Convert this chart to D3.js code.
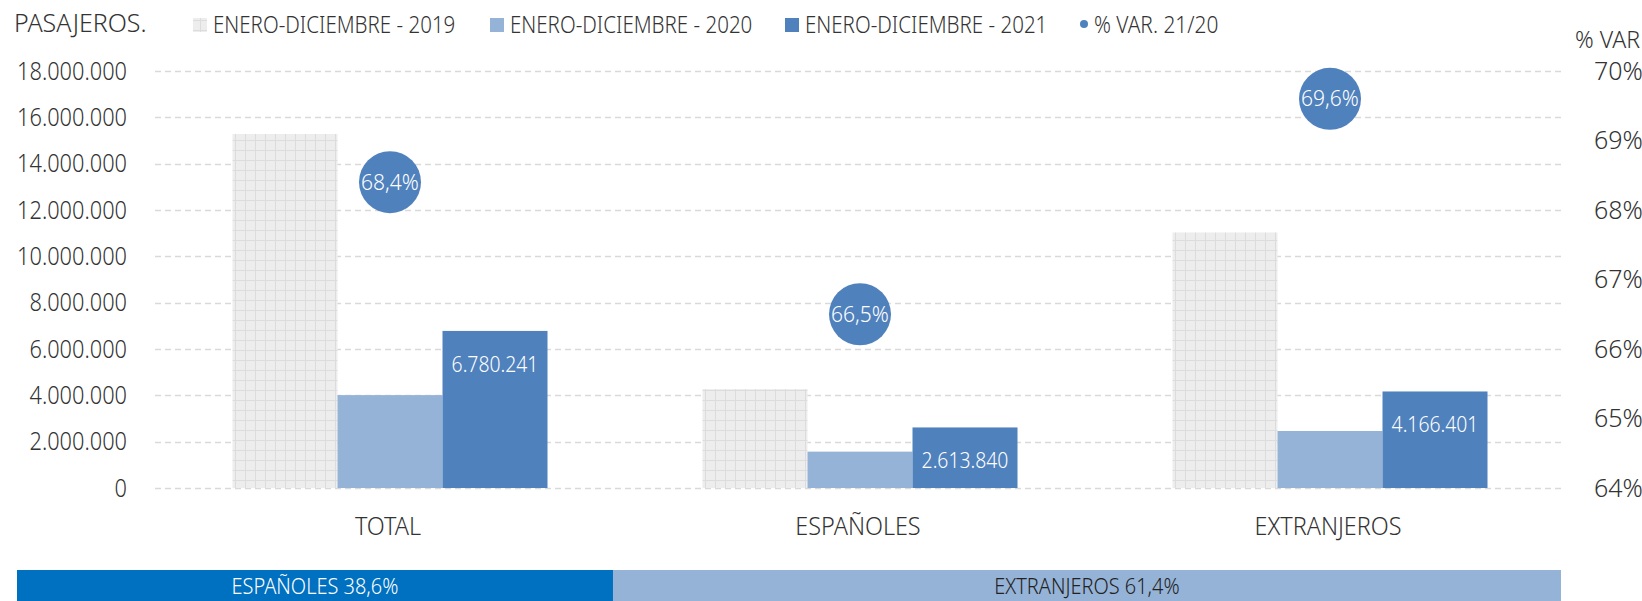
<!DOCTYPE html>
<html>
<head>
<meta charset="utf-8">
<script src="https://cdn.jsdelivr.net/npm/d3@7"></script>
<style>
  body { margin: 0; background: #fff; }
  text { font-family: "Noto Sans", "Open Sans", sans-serif; font-weight: 300; fill: #333; }
</style>
</head>
<body>
<svg id="chart" width="1642" height="601"></svg>
<script>
// chart values
const categories = ["TOTAL", "ESPAÑOLES", "EXTRANJEROS"];
const seriesNames = ["ENERO-DICIEMBRE - 2019", "ENERO-DICIEMBRE - 2020", "ENERO-DICIEMBRE - 2021"];
const pax2019 = [15280000, 4270000, 11030000];
const pax2020 = [4010000, 1570000, 2460000];
const pax2021 = [6780241, 2613840, 4166401];
const varPct = [68.4, 66.5, 69.6];
const leftTicks = [0, 2000000, 4000000, 6000000, 8000000, 10000000, 12000000, 14000000, 16000000, 18000000];
const rightTicks = [64, 65, 66, 67, 68, 69, 70];
const shareLabels = ["ESPAÑOLES", "EXTRANJEROS"];
const shareValues = [38.6, 61.4];

const svg = d3.select("#chart");
const plot = { left: 155, right: 1565, top: 71, bottom: 488 };

const es = d3.formatLocale({ decimal: ",", thousands: ".", grouping: [3], currency: ["", "€"] });
const fmtInt = es.format(",d");
const fmtPct = es.format(".1f");

// the original font is a condensed one, so squeeze text horizontally
function squeeze(sel, k, origin) {
  sel.style("transform-box", "fill-box")
     .style("transform-origin", origin)
     .style("transform", `scaleX(${k})`);
}

// pattern for the 2019 bars (light grid)
const defs = svg.append("defs");
const pat = defs.append("pattern")
  .attr("id", "grid19").attr("patternUnits", "userSpaceOnUse")
  .attr("width", 10).attr("height", 10);
pat.append("rect").attr("width", 10).attr("height", 10).attr("fill", "#ededed");
pat.append("path").attr("d", "M0 0.5H10M0.5 0V10").attr("stroke", "#dcdcdc").attr("stroke-width", 1);

const x0 = d3.scaleBand().domain(categories).range([plot.left, plot.right]);
const x1 = d3.scaleBand().domain(d3.range(3)).range([0, x0.bandwidth()]).paddingOuter(0.738);
const y = d3.scaleLinear().domain([0, 18000000]).range([plot.bottom, plot.top]);
const yR = d3.scaleLinear().domain([64, 70]).range([plot.bottom, plot.top]);

// gridlines
svg.append("g").selectAll("line").data(leftTicks).join("line")
  .attr("x1", plot.left).attr("x2", plot.right)
  .attr("y1", d => Math.round(y(d)) + 0.5).attr("y2", d => Math.round(y(d)) + 0.5)
  .attr("stroke", "#d9d9d9").attr("stroke-width", 1.3).attr("stroke-dasharray", "6,4");

// left axis
const yAxis = d3.axisLeft(y).tickValues(leftTicks).tickFormat(fmtInt).tickSize(0).tickPadding(0);
svg.append("g").attr("transform", "translate(127,0)").call(yAxis)
  .call(g => g.select(".domain").remove())
  .selectAll("text").attr("font-size", 25).attr("fill", "#333").attr("font-family", null)
  .call(squeeze, 0.87, "right");

// right axis
const rAxis = d3.axisRight(yR).tickValues(rightTicks).tickFormat(d => d + "%").tickSize(0).tickPadding(0);
svg.append("g").attr("transform", "translate(1594,0)").call(rAxis)
  .call(g => g.select(".domain").remove())
  .selectAll("text").attr("font-size", 25).attr("fill", "#333").attr("font-family", null);

svg.append("text").attr("x", 1640).attr("y", 40).attr("dy", "0.35em")
  .attr("text-anchor", "end").attr("font-size", 24).text("% VAR")
  .call(squeeze, 0.96, "right");

// bars
const fills = ["url(#grid19)", "#95b3d7", "#4f81bd"];
const series = [pax2019, pax2020, pax2021];
const groups = svg.append("g").selectAll("g").data(categories).join("g")
  .attr("transform", d => `translate(${x0(d)},0)`);

groups.each(function(cat, ci) {
  const g = d3.select(this);
  series.forEach((vals, si) => {
    g.append("rect")
      .attr("x", x1(si)).attr("width", x1.bandwidth())
      .attr("y", y(vals[ci])).attr("height", y(0) - y(vals[ci]))
      .attr("fill", fills[si]);
  });
  g.append("text")
    .attr("x", x1(2) + x1.bandwidth() / 2).attr("y", y(pax2021[ci]) + 33)
    .attr("dy", "0.35em").attr("text-anchor", "middle")
    .attr("font-size", 22).style("fill", "#fff").text(fmtInt(pax2021[ci]))
    .call(squeeze, 0.88, "center");
});

// % variation bubbles
const bub = svg.append("g").selectAll("g").data(categories).join("g")
  .attr("transform", (d, i) => `translate(${x0(d) + x0.bandwidth() / 2},${yR(varPct[i])})`);
bub.append("circle").attr("r", 31).attr("fill", "#4f81bd");
bub.append("text").attr("dy", "0.35em").attr("text-anchor", "middle")
  .attr("font-size", 21).style("fill", "#fff").text((d, i) => fmtPct(varPct[i]) + "%");

// category labels
svg.append("g").selectAll("text").data(categories).join("text")
  .attr("x", d => x0(d) + x0.bandwidth() / 2 - 2).attr("y", 526).attr("dy", "0.35em")
  .attr("text-anchor", "middle").attr("font-size", 26).text(d => d)
  .call(squeeze, 0.9, "center");

// title + legend
svg.append("text").attr("x", 14).attr("y", 23).attr("dy", "0.35em")
  .attr("font-size", 26).text("PASAJEROS.")
  .call(squeeze, 0.96, "left");
const legX = [193, 490, 785];
seriesNames.forEach((name, i) => {
  svg.append("rect").attr("x", legX[i]).attr("y", 18).attr("width", 14).attr("height", 14)
    .attr("fill", fills[i]);
  svg.append("text").attr("x", legX[i] + 20).attr("y", 25).attr("dy", "0.35em")
    .attr("font-size", 24).text(name)
    .call(squeeze, 0.855, "left");
});
svg.append("circle").attr("cx", 1084).attr("cy", 24).attr("r", 4).attr("fill", "#4f81bd");
svg.append("text").attr("x", 1094).attr("y", 25).attr("dy", "0.35em")
  .attr("font-size", 24).text("% VAR. 21/20")
  .call(squeeze, 0.87, "left");

// share bar at bottom
const xs = d3.scaleLinear().domain([0, 100]).range([17, 1561]);
const starts = [0, shareValues[0]];
const shareFill = ["#0070c0", "#95b3d7"];
const shareText = ["#fff", "#222"];
shareValues.forEach((v, i) => {
  svg.append("rect").attr("x", xs(starts[i])).attr("y", 570)
    .attr("width", xs(starts[i] + v) - xs(starts[i])).attr("height", 40)
    .attr("fill", shareFill[i]);
  svg.append("text").attr("x", (xs(starts[i]) + xs(starts[i] + v)) / 2).attr("y", 587)
    .attr("dy", "0.35em").attr("text-anchor", "middle").attr("font-size", 21)
    .style("fill", shareText[i]).text(shareLabels[i] + " " + fmtPct(v) + "%")
    .call(squeeze, 0.95, "center");
});
</script>
</body>
</html>
